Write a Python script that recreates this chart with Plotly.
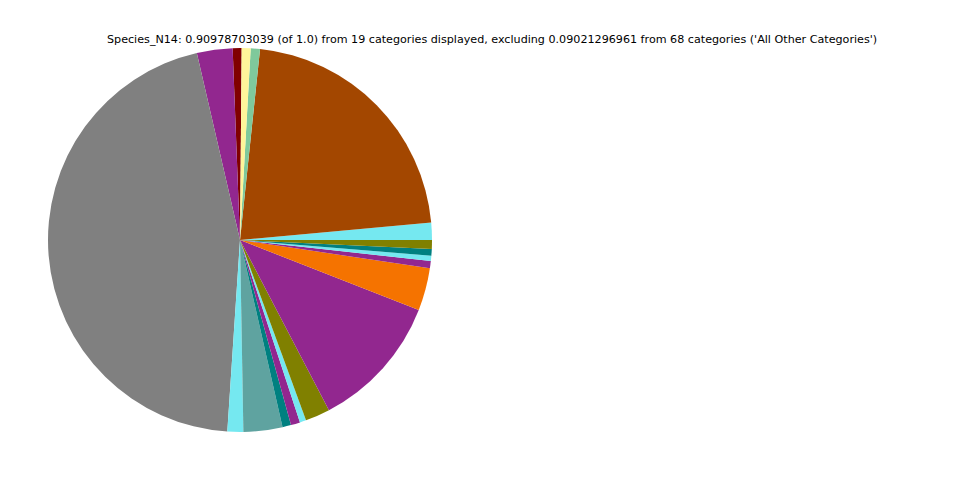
import plotly.graph_objects as go

# Species share for the 19 displayed categories (counterclockwise from 12 o'clock)
categories = [
    "Species_A", "Species_B", "Species_C", "Species_D", "Species_E",
    "Species_F", "Species_G", "Species_H", "Species_I", "Species_J",
    "Species_K", "Species_L", "Species_M", "Species_N", "Species_O",
    "Species_P", "Species_Q", "Species_R", "Species_S",
]
values = [
    0.00682, 0.02729, 0.41244, 0.01213, 0.02982,
    0.00657, 0.00708, 0.00480, 0.01895, 0.10361,
    0.03260, 0.00556, 0.00404, 0.00505, 0.00682,
    0.01314, 0.19914, 0.00708, 0.00682,
]
colors = [
    "#800000", "#92278f", "#808080", "#75e8f0", "#5fa3a0",
    "#008080", "#92278f", "#75e8f0", "#808000", "#92278f",
    "#f57300", "#92278f", "#75e8f0", "#008080", "#808000",
    "#75e8f0", "#a34700", "#7fc99b", "#fff59a",
]
title_text = ("Species_N14: 0.90978703039 (of 1.0) from 19 categories displayed, "
              "excluding 0.09021296961 from 68 categories ('All Other Categories')")

fig = go.Figure(go.Pie(
    labels=categories,
    values=values,
    sort=False,
    direction="counterclockwise",
    rotation=-2.2,
    marker=dict(colors=colors, line=dict(width=0)),
    textinfo="none",
    showlegend=False,
    domain=dict(x=[48 / 960, 432 / 960], y=[48 / 480, 432 / 480]),
))

fig.add_annotation(
    text=title_text, xref="paper", yref="paper", x=492 / 960, y=1 - 39 / 480,
    xanchor="center", yanchor="middle", showarrow=False,
    font=dict(family="DejaVu Sans", size=11.15, color="#000000"),
)

fig.update_layout(
    width=960, height=480,
    margin=dict(l=0, r=0, t=0, b=0),
    paper_bgcolor="white", plot_bgcolor="white",
)

fig.write_html("out.html")
